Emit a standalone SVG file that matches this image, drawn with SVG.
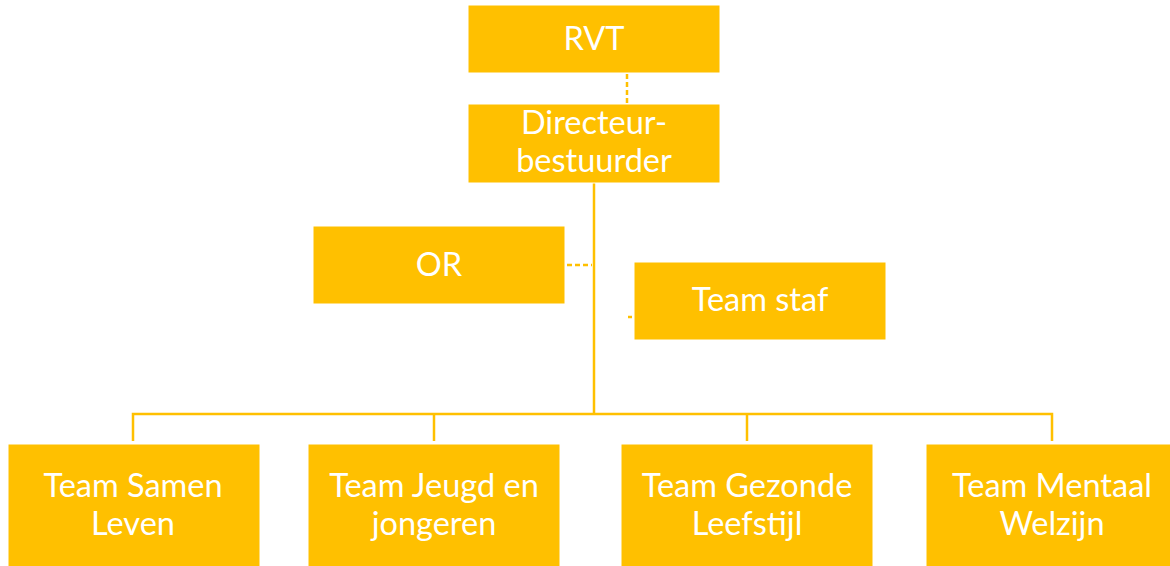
<svg xmlns="http://www.w3.org/2000/svg" width="1170" height="566" viewBox="0 0 1170 566">
<style>
.box{fill:#FFC000;stroke:#FFFFFF;stroke-width:1}
.t{fill:#FFFFFF;font-family:Lato,"Open Sans",sans-serif;font-size:32.5px;text-anchor:middle}
.ln{stroke:#FFC000;stroke-width:2.5;fill:none}
.dash{stroke:#FFC000;stroke-width:2.5;fill:none;stroke-dasharray:5,3}
</style>
<rect width="1170" height="566" fill="#FFFFFF"/>
<g id="connectors">
<path class="dash" d="M627,74 V103"/>
<path class="ln" d="M594,183 V414"/>
<path class="dash" d="M567,265 H592"/>
<path class="ln" d="M628,317 H632" stroke-width="1.5"/>
<path class="ln" d="M133,441 V414 H1052 V441"/>
<path class="ln" d="M434,414 V441"/>
<path class="ln" d="M747,414 V441"/>
</g>
<g id="rvt"><rect class="box" x="468" y="5" width="252" height="68"/><text class="t" x="594" y="50">RVT</text></g>
<g id="directeur"><rect class="box" x="468" y="104" width="252" height="79"/><text class="t" x="594" y="134">Directeur-</text><text class="t" x="594" y="172">bestuurder</text></g>
<g id="or"><rect class="box" x="313" y="226" width="252" height="78"/><text class="t" x="439" y="276">OR</text></g>
<g id="staf"><rect class="box" x="634" y="262" width="252" height="78"/><text class="t" x="760" y="311">Team staf</text></g>
<g id="samen"><rect class="box" x="8" y="444" width="252" height="124"/><text class="t" x="133" y="497">Team Samen</text><text class="t" x="133" y="535">Leven</text></g>
<g id="jeugd"><rect class="box" x="308" y="444" width="252" height="124"/><text class="t" x="434" y="497">Team Jeugd en</text><text class="t" x="434" y="535">jongeren</text></g>
<g id="gezonde"><rect class="box" x="621" y="444" width="252" height="124"/><text class="t" x="747" y="497">Team Gezonde</text><text class="t" x="747" y="535">Leefstijl</text></g>
<g id="mentaal"><rect class="box" x="926" y="444" width="252" height="124"/><text class="t" x="1052" y="497">Team Mentaal</text><text class="t" x="1052" y="535">Welzijn</text></g>
</svg>
